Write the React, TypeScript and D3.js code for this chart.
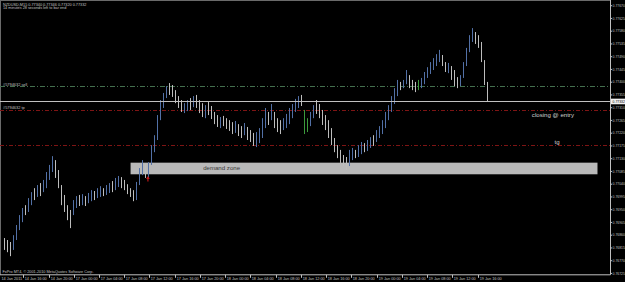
import React from 'react';
import * as d3 from 'd3';

const W = 625;
const H = 282;

const titleLine = 'NZDUSD,M15  0.77340 0.77346 0.77320 0.77332';
const timerLine = '14 minutes 28 seconds left to bar end';
const copyrightLine = 'FxPro MT4, © 2001-2010 MetaQuotes Software Corp.';
const currentPrice = 0.77332;

// right price-axis tick labels
const priceTicks = [
  0.7767, 0.77625, 0.7758, 0.77535, 0.7749, 0.77445, 0.774, 0.77355, 0.7731, 0.77265, 0.7722,
  0.77175, 0.7713, 0.77085, 0.7704, 0.76995, 0.7695, 0.76905, 0.7686, 0.76815, 0.7677, 0.76725,
];

// time axis (chart hours, weekend collapsed: 14 Jan 00:00 = 0, 17 Jan 00:00 = 24)
const firstTimeLabel = '14 Jan 2011';
const timeTickLabels = [
  '14 Jan 16:00', '14 Jan 20:00', '17 Jan 00:00', '17 Jan 04:00', '17 Jan 08:00', '17 Jan 12:00',
  '17 Jan 16:00', '17 Jan 20:00', '18 Jan 00:00', '18 Jan 04:00', '18 Jan 08:00', '18 Jan 12:00',
  '18 Jan 16:00', '18 Jan 20:00', '19 Jan 00:00', '19 Jan 04:00', '19 Jan 08:00', '19 Jan 12:00',
  '19 Jan 16:00',
];
const timeTickHours = [16, 20, 24, 28, 32, 36, 40, 44, 48, 52, 56, 60, 64, 68, 72, 76, 80, 84, 88];
const firstBarHour = 13;
const lastBarHour = 89.5;

// bar highs / lows (price), sampled left to right
const highs = [
  76850, 76843, 76836, 76860, 76896, 76931, 76956, 76966, 76991, 77012,
  77026, 77037, 77044, 77055, 77083, 77108, 77139, 77125, 77090, 77037,
  77002, 76966, 76949, 76984, 76998, 77002, 77005, 76998, 77009, 77019,
  77016, 77026, 77033, 77026, 77037, 77044, 77051, 77062, 77069, 77065,
  77055, 77040, 77026, 77019, 77048, 77097, 77125, 77111, 77118, 77178,
  77213, 77284, 77337, 77362, 77386, 77397, 77390, 77372, 77351, 77337,
  77326, 77337, 77344, 77351, 77355, 77337, 77326, 77319, 77330, 77316,
  77295, 77284, 77277, 77281, 77273, 77266, 77259, 77263, 77252, 77245,
  77256, 77242, 77231, 77221, 77224, 77238, 77273, 77309, 77295, 77323,
  77295, 77273, 77266, 77273, 77288, 77309, 77323, 77341, 77351, 77355,
  77302, 77273, 77295, 77319, 77337, 77323, 77302, 77284, 77266, 77238,
  77203, 77178, 77161, 77143, 77136, 77161, 77168, 77161, 77178, 77189,
  77185, 77196, 77206, 77213, 77231, 77245, 77266, 77295, 77319, 77351,
  77379, 77408, 77401, 77408, 77443, 77425, 77408, 77401, 77408, 77415,
  77436, 77453, 77471, 77485, 77499, 77514, 77496, 77471, 77468, 77457,
  77443, 77418, 77425, 77471, 77521, 77566, 77591, 77577, 77566, 77542,
  77478, 77401,
].map((v) => v / 100000);
const lows = [
  76808, 76800, 76786, 76808, 76843, 76878, 76906, 76931, 76942, 76966,
  76984, 76995, 76998, 77012, 77026, 77055, 77083, 77062, 77026, 76966,
  76942, 76913, 76885, 76931, 76956, 76963, 76966, 76963, 76973, 76980,
  76984, 76991, 76995, 76998, 77002, 77009, 77012, 77019, 77030, 77026,
  77019, 77005, 76995, 76980, 76984, 77037, 77072, 77062, 77062, 77108,
  77153, 77196, 77266, 77309, 77344, 77355, 77348, 77326, 77309, 77295,
  77291, 77298, 77302, 77312, 77309, 77291, 77277, 77273, 77284, 77270,
  77252, 77242, 77238, 77245, 77235, 77228, 77217, 77221, 77210, 77203,
  77213, 77196, 77189, 77175, 77171, 77185, 77203, 77238, 77249, 77266,
  77238, 77224, 77217, 77231, 77238, 77252, 77273, 77295, 77309, 77316,
  77217, 77224, 77245, 77273, 77288, 77273, 77249, 77231, 77203, 77178,
  77153, 77132, 77115, 77104, 77090, 77104, 77125, 77132, 77136, 77146,
  77153, 77157, 77168, 77175, 77189, 77203, 77217, 77238, 77266, 77295,
  77323, 77351, 77372, 77379, 77393, 77379, 77372, 77365, 77372, 77379,
  77393, 77415, 77429, 77443, 77457, 77471, 77457, 77436, 77432, 77408,
  77386, 77379, 77386, 77415, 77457, 77506, 77542, 77535, 77521, 77471,
  77390, 77333,
].map((v) => v / 100000);
// bar direction: u = up, d = down, g = highlighted (green)
const barDirs =
  'ddduuuuduu' + 'duduuuuddd' + 'ddduududuu' + 'duuduuduud' + 'dddduuuduu' +
  'uuuuuddddd' + 'uududddudd' + 'dduddddudd' + 'uddduuuudu' + 'ddduuuuuud' +
  'gguudddddd' + 'ddddduuduu' + 'duuduuuuuu' + 'uuduudddgu' + 'uuuuuuddud' +
  'dduuuuuddd' + 'dd';

// order / object levels
const entryLevel = 0.77385;
const entryLabel = '#5794632 sell';
const tpLevel = 0.77302;
const tpLabel = '#5794632 tp';
const targetLevel = 0.77178;
const demandZone = { top: 0.77116, bottom: 0.77075, fromHour: 33, toHour: 107, label: 'demand zone', labelHour: 44.5 };
const noteClosing = { text: 'closing @ entry', hour: 96.6, price: 0.77284 };
const noteTg = { text: 'tg', hour: 100.2, price: 0.77189 };
const arrowMark = { hour: 35.75, price: 0.77058 };

const FONT = '"Liberation Sans", Arial, sans-serif';
const AXIS = '#c0c0c0';

export default function App() {
  const plotRight = 610.5;
  const axisY = 274.8;
  const y = d3.scaleLinear().domain([0.76725, 0.7767]).range([273.45, 5.7]);
  const xh = d3.scaleLinear().domain([16, 88]).range([23.3, 477.6]);
  const n = highs.length;
  const xb = d3.scaleLinear().domain([0, n - 1]).range([xh(firstBarHour), xh(lastBarHour)]);
  const fmt = d3.format('.5f');
  const colorOf = (c: string) => (c === 'u' ? '#5270a6' : c === 'g' ? '#3c9a3c' : '#bdbdbd');
  const ya = y(arrowMark.price);
  const xa = xh(arrowMark.hour);

  return (
    <svg width={W} height={H} style={{ position: 'absolute', left: 0, top: 0, background: '#000' }}>
      <rect x={0} y={0} width={W} height={H} fill="#000" />
      {/* frame */}
      <line x1={0} y1={0.5} x2={plotRight} y2={0.5} stroke="#6a6a6a" />
      <line x1={0.5} y1={0} x2={0.5} y2={axisY} stroke="#6a6a6a" />

      {/* demand zone */}
      <rect
        x={xh(demandZone.fromHour)}
        y={y(demandZone.top)}
        width={xh(demandZone.toHour) - xh(demandZone.fromHour)}
        height={y(demandZone.bottom) - y(demandZone.top)}
        fill="#b9b9b9"
      />
      <text
        x={xh(demandZone.labelHour)}
        y={(y(demandZone.top) + y(demandZone.bottom)) / 2 + 2}
        fontSize={6.1}
        fontFamily={FONT}
        fill="#3a3a3a"
      >
        {demandZone.label}
      </text>

      {/* level lines */}
      <line x1={0} x2={plotRight} y1={Math.round(y(entryLevel)) + 0.5} y2={Math.round(y(entryLevel)) + 0.5}
        stroke="#44704f" strokeDasharray="5,2,1,2" />
      <text x={3} y={y(entryLevel) - 0.8} fontSize={3.9} fontFamily={FONT} fill={AXIS}>{entryLabel}</text>
      <line x1={0} x2={plotRight} y1={Math.round(y(tpLevel)) + 0.5} y2={Math.round(y(tpLevel)) + 0.5}
        stroke="#7e1414" strokeDasharray="4,2,1,2" />
      <text x={3} y={y(tpLevel) - 0.8} fontSize={3.9} fontFamily={FONT} fill={AXIS}>{tpLabel}</text>
      <line x1={0} x2={plotRight} y1={Math.round(y(targetLevel)) + 0.5} y2={Math.round(y(targetLevel)) + 0.5}
        stroke="#7e1414" strokeDasharray="4,2,1,2" />

      {/* bars */}
      {highs.map((hv, i) => {
        const xx = Math.round(xb(i)) + 0.5;
        return (
          <line key={i} x1={xx} x2={xx} y1={y(hv)} y2={y(lows[i])} stroke={colorOf(barDirs[i])} strokeWidth={1} />
        );
      })}

      {/* current price line */}
      <line x1={0} x2={plotRight} y1={Math.round(y(currentPrice)) + 0.5} y2={Math.round(y(currentPrice)) + 0.5}
        stroke="#c0c0c0" />

      {/* arrow */}
      <path
        d={`M${xa},${ya - 3} L${xa - 1.8},${ya} L${xa - 0.6},${ya} L${xa - 0.6},${ya + 2.5} L${xa + 0.6},${ya + 2.5} L${xa + 0.6},${ya} L${xa + 1.8},${ya} Z`}
        fill="#c01818"
      />

      {/* notes */}
      <text x={xh(noteClosing.hour)} y={y(noteClosing.price) + 2} fontSize={6.1} fontFamily={FONT} fill="#d0d0d0">
        {noteClosing.text}
      </text>
      <text x={xh(noteTg.hour)} y={y(noteTg.price) + 2} fontSize={6.1} fontFamily={FONT} fill="#d0d0d0">
        {noteTg.text}
      </text>

      {/* info texts */}
      <text x={3} y={5.6} fontSize={3.8} fontFamily={FONT} fill={AXIS}>{titleLine}</text>
      <text x={3} y={9.4} fontSize={3.8} fontFamily={FONT} fill={AXIS}>{timerLine}</text>
      <text x={2.5} y={272.8} fontSize={3.8} fontFamily={FONT} fill={AXIS}>{copyrightLine}</text>

      {/* right axis */}
      <line x1={plotRight} x2={plotRight} y1={0} y2={axisY} stroke={AXIS} />
      {priceTicks.map((p) => (
        <g key={p}>
          <line x1={plotRight} x2={plotRight + 1.5} y1={y(p)} y2={y(p)} stroke={AXIS} />
          <text x={612.6} y={y(p) + 1.2} fontSize={3.4} fontFamily={FONT} fill={AXIS}>{fmt(p)}</text>
        </g>
      ))}
      <rect x={plotRight + 0.5} y={y(currentPrice) - 2.8} width={W - plotRight} height={5.6} fill="#f0f0f0" />
      <text x={612.6} y={y(currentPrice) + 1.2} fontSize={3.4} fontFamily={FONT} fill="#000">{fmt(currentPrice)}</text>

      {/* bottom axis */}
      <line x1={0} x2={plotRight} y1={axisY} y2={axisY} stroke={AXIS} />
      <text x={1.5} y={279.5} fontSize={3.8} fontFamily={FONT} fill={AXIS}>{firstTimeLabel}</text>
      {timeTickLabels.map((lab, i) => {
        const xx = Math.round(xh(timeTickHours[i])) + 0.5;
        return (
          <g key={lab}>
            <line x1={xx} x2={xx} y1={axisY} y2={axisY + 3} stroke={AXIS} />
            <text x={xx + 1.2} y={279.5} fontSize={3.8} fontFamily={FONT} fill={AXIS}>{lab}</text>
          </g>
        );
      })}
    </svg>
  );
}
